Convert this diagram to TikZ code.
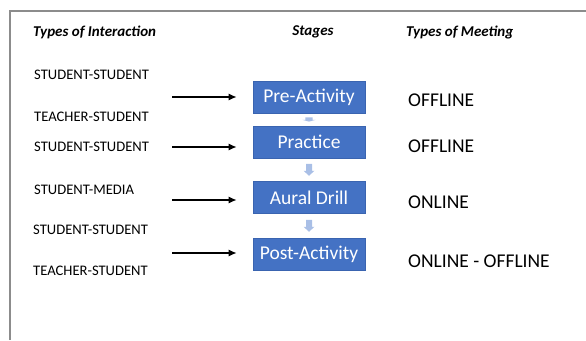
\documentclass[tikz,border=0pt]{standalone}
\usepackage{fontspec}
\setmainfont{Carlito}
\usetikzlibrary{arrows.meta,calc}
\definecolor{boxblue}{HTML}{4472C4}
\definecolor{boxedge}{HTML}{3A64B0}
\definecolor{flowblue}{HTML}{A9BFE6}
\definecolor{framegray}{HTML}{8C8C8C}
\begin{document}
\begin{tikzpicture}[x=1pt,y=-1pt,
  header/.style={font=\fontsize{15}{17}\selectfont\bfseries\itshape, inner sep=0},
  role/.style={font=\fontsize{14.6}{16}\selectfont, anchor=west, inner sep=0},
  meet/.style={font=\fontsize{19.5}{22}\selectfont, anchor=west, inner sep=0},
  stagebox/.style={draw=boxedge, line width=0.6pt, fill=boxblue, text=white,
    minimum width=112pt, minimum height=32pt, inner sep=0,
    font=\fontsize{19.5}{22}\selectfont},
  feed/.style={-{Latex[length=8pt,width=7pt]}, line width=1.4pt, shorten >=16pt},
  downarrow/.pic={\fill[flowblue] (-3,-6) -- (3,-6) -- (3,1) -- (5.5,1) -- (0,6)
    -- (-5.5,1) -- (-3,1) -- cycle;}
]
\useasboundingbox (0,0) rectangle (586,340);

% outer frame (open at the right and bottom)
\draw[framegray, line width=1.5pt] (10,340) -- (10,11) -- (590,11);

% column headings
\node[header, anchor=west] (hint) at (33,32) {Types of Interaction};
\node[header] (hstage) at (313,32) {Stages};
\node[header, anchor=west] (hmeet) at (406,32) {Types of Meeting};

% stages
\node[stagebox] (pre)  at (309,97)  {Pre-Activity};
\node[stagebox] (prac) at (309,142) {Practice};
\node[stagebox] (aur)  at (309,197.5) {Aural Drill};
\node[stagebox] (post) at (309,254) {Post-Activity};

% block arrows between stages
\coordinate (f1) at ($(pre.south)!0.5!(prac.north)$);
\coordinate (f2) at ($(prac.south)!0.5!(aur.north)$);
\coordinate (f3) at ($(aur.south)!0.5!(post.north)$);
\pic[xscale=1.2, yscale=0.35] at (f1) {downarrow};
\pic at (f2) {downarrow};
\pic at (f3) {downarrow};

% types of interaction
\node[role] (ss1) at (34,75)  {STUDENT-STUDENT};
\node[role] (ts1) at (34,117) {TEACHER-STUDENT};
\node[role] (ss2) at (34,147) {STUDENT-STUDENT};
\node[role] (sm)  at (34,190) {STUDENT-MEDIA};
\node[role] (ss3) at (33,230) {STUDENT-STUDENT};
\node[role] (ts2) at (33,271) {TEACHER-STUDENT};

% types of meeting
\node[meet] (m1) at (408,100) {OFFLINE};
\node[meet] (m2) at (408,146) {OFFLINE};
\node[meet] (m3) at (408,202) {ONLINE};
\node[meet] (m4) at (408,261) {ONLINE - OFFLINE};

% feeding arrows
\coordinate (a1) at (172,97);
\coordinate (a2) at (172,147);
\coordinate (a3) at (172,200);
\coordinate (a4) at (172,253);
\draw[feed] (a1) -- (a1 -| pre.west);
\draw[feed] (a2) -- (a2 -| prac.west);
\draw[feed] (a3) -- (a3 -| aur.west);
\draw[feed] (a4) -- (a4 -| post.west);
\end{tikzpicture}
\end{document}
